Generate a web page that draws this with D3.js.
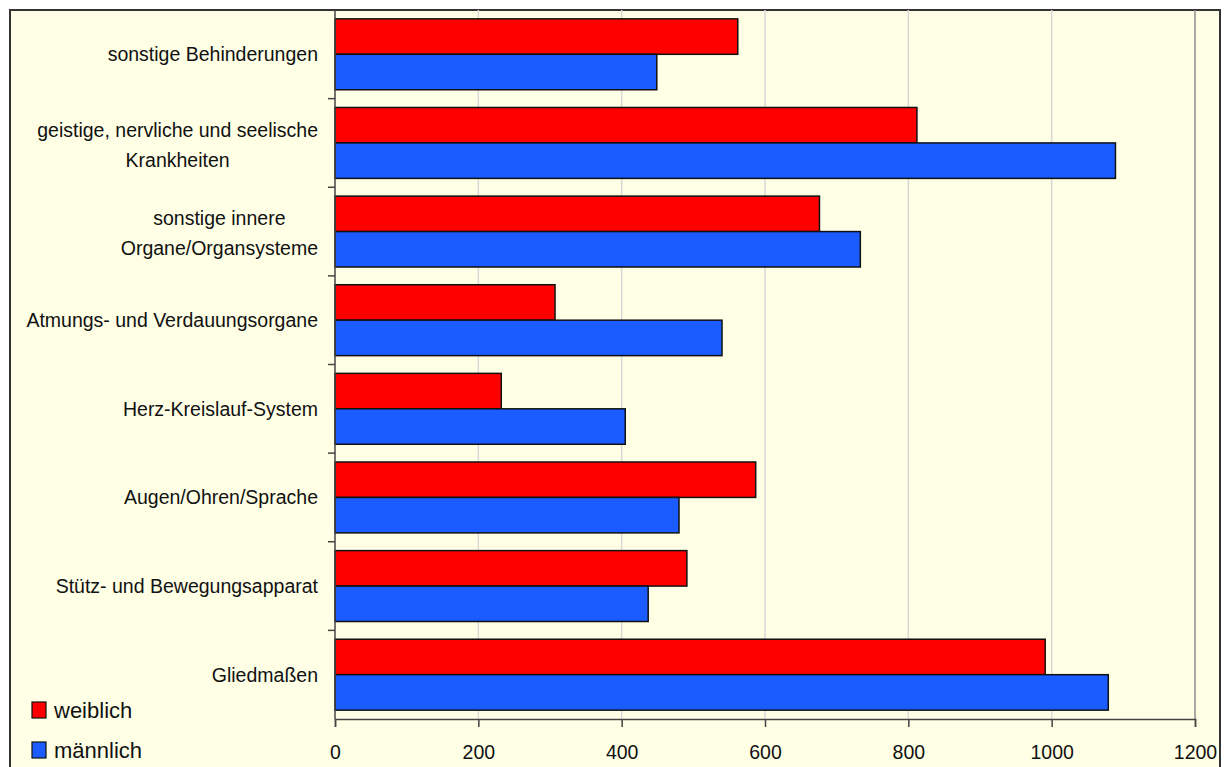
<!DOCTYPE html>
<html>
<head>
<meta charset="utf-8">
<script src="https://cdn.jsdelivr.net/npm/d3@7/dist/d3.min.js"></script>
<style>
  html, body { margin: 0; padding: 0; background: #ffffff; }
  svg { display: block; font-family: "Liberation Sans", Arial, sans-serif; }
</style>
</head>
<body>
<svg id="chart" width="1225" height="767"></svg>
<script>
// Categories, top to bottom ("\n" marks a line break in the label)
const categories = [
  "sonstige Behinderungen",
  "geistige, nervliche und seelische\nKrankheiten",
  "sonstige innere\nOrgane/Organsysteme",
  "Atmungs- und Verdauungsorgane",
  "Herz-Kreislauf-System",
  "Augen/Ohren/Sprache",
  "Stütz- und Bewegungsapparat",
  "Gliedmaßen"
];
const seriesNames = ["weiblich", "männlich"];
const weiblich = [562, 812, 676, 307, 232, 587, 491, 991];
const maennlich = [449, 1089, 733, 540, 405, 480, 437, 1079];
const xTicks = [0, 200, 400, 600, 800, 1000, 1200];
const colors = ["#ff0000", "#1a5cff"];

const svg = d3.select("#chart");
const plot = { left: 335, right: 1195, top: 10, bottom: 719 };
const labelSize = 19.5;

// chart background and frame
svg.append("rect")
  .attr("x", 10).attr("y", 10)
  .attr("width", 1210).attr("height", 780)
  .attr("fill", "#ffffe6")
  .attr("stroke", "#333333").attr("stroke-width", 2);

const x = d3.scaleLinear().domain([0, 1200]).range([plot.left, plot.right]);
const y = d3.scaleBand().domain(categories).range([plot.top, plot.bottom]).padding(0);
const ySub = d3.scaleBand().domain(seriesNames).range([0, y.bandwidth()])
  .paddingInner(0).paddingOuter(0.25);

// vertical gridlines
svg.append("g").selectAll("line")
  .data(xTicks.filter(t => t > 0 && t < 1200))
  .join("line")
  .attr("x1", d => x(d)).attr("x2", d => x(d))
  .attr("y1", plot.top).attr("y2", plot.bottom)
  .attr("stroke", "#d8d8d8").attr("stroke-width", 1.5);

// right border of the plot area
svg.append("line")
  .attr("x1", plot.right).attr("x2", plot.right)
  .attr("y1", plot.top).attr("y2", plot.bottom)
  .attr("stroke", "#8c8c8c").attr("stroke-width", 1.5);

// bars
const rows = categories.map((c, i) => ({ cat: c, vals: [weiblich[i], maennlich[i]] }));
const groups = svg.append("g").selectAll("g")
  .data(rows).join("g")
  .attr("transform", d => `translate(0,${y(d.cat)})`);
groups.selectAll("rect")
  .data(d => d.vals.map((v, j) => ({ s: seriesNames[j], v, j })))
  .join("rect")
  .attr("x", x(0))
  .attr("y", d => ySub(d.s))
  .attr("width", d => x(d.v) - x(0))
  .attr("height", ySub.bandwidth())
  .attr("fill", d => colors[d.j])
  .attr("stroke", "#111111").attr("stroke-width", 1.5);

// x axis
const xAxis = d3.axisBottom(x).tickValues(xTicks).tickSize(8).tickPadding(18).tickFormat(d3.format("d"));
const gx = svg.append("g").attr("transform", `translate(0,${plot.bottom})`).call(xAxis);
gx.select(".domain").attr("stroke", "#444").attr("stroke-width", 1.5);
gx.selectAll(".tick line").attr("stroke", "#444").attr("stroke-width", 1.5);
gx.selectAll(".tick text").attr("font-size", labelSize).attr("fill", "#111")
  .attr("font-family", '"Liberation Sans", Arial, sans-serif');

// y axis: line with ticks at category boundaries
svg.append("line")
  .attr("x1", plot.left).attr("x2", plot.left)
  .attr("y1", plot.top).attr("y2", plot.bottom)
  .attr("stroke", "#444").attr("stroke-width", 1.5);
svg.append("g").selectAll("line")
  .data(categories.slice(1))
  .join("line")
  .attr("x1", plot.left - 7).attr("x2", plot.left)
  .attr("y1", d => y(d)).attr("y2", d => y(d))
  .attr("stroke", "#444").attr("stroke-width", 1.5);

// category labels (multi-line labels centred on each other, block right-aligned)
const lineH = 30;
const labelRight = plot.left - 17;
categories.forEach(c => {
  const lines = c.split("\n");
  const cy = y(c) + y.bandwidth() / 2 + (lines.length > 1 ? 2 : 0);
  const t = svg.append("text")
    .attr("font-size", labelSize).attr("fill", "#111");
  lines.forEach((ln, k) => {
    t.append("tspan").attr("x", 0)
      .attr("y", cy + (k - (lines.length - 1) / 2) * lineH)
      .attr("dy", "0.35em").text(ln);
  });
  // measure widest line then place block so it ends at labelRight
  const widths = t.selectAll("tspan").nodes().map(n => n.getComputedTextLength());
  const maxW = d3.max(widths);
  t.selectAll("tspan")
    .attr("text-anchor", "middle")
    .attr("x", labelRight - maxW / 2);
});

// legend
const legend = svg.append("g");
seriesNames.forEach((s, i) => {
  const ly = 710 + i * 40;
  legend.append("rect")
    .attr("x", 32).attr("y", ly - 8)
    .attr("width", 14).attr("height", 16)
    .attr("fill", colors[i]).attr("stroke", "#111").attr("stroke-width", 1.2);
  legend.append("text")
    .attr("x", 54).attr("y", ly).attr("dy", "0.35em")
    .attr("font-size", 22).attr("fill", "#111").text(s);
});
</script>
</body>
</html>
